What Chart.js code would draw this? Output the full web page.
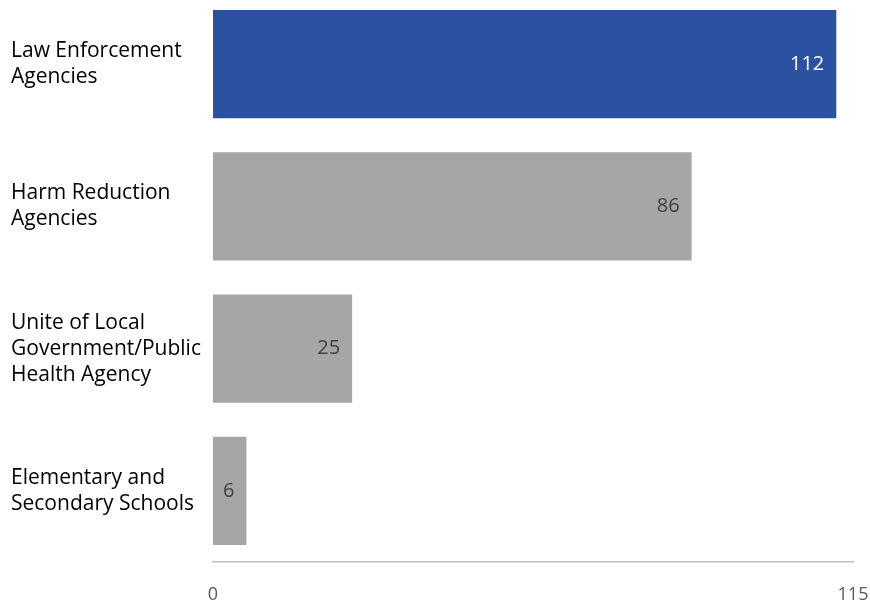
<!doctype html>
<html lang="en">
<head>
	<meta charset="utf-8">
	<title>Grant recipients</title>
	<style>
		* { margin: 0; padding: 0; }
		html, body { width: 870px; height: 601px; overflow: hidden; background: #fff; }
		.chartBox { width: 870px; height: 609px; margin-top: -7px; }
	</style>
</head>
<body>
	<div class="chartBox">
		<canvas id="barChart"></canvas>
	</div>
	<script src="https://cdn.jsdelivr.net/npm/chart.js"></script>
	<script>
		const categories = [
			['Law Enforcement', 'Agencies'],
			['Harm Reduction', 'Agencies'],
			['Unite of Local', 'Government/Public', 'Health Agency'],
			['Elementary and', 'Secondary Schools']
		]
		const values = [112, 86, 25, 6]
		const barColors = ['#2A52A0', '#A6A6A6', '#A6A6A6', '#A6A6A6']
		const labelColors = ['#ffffff', '#404040', '#404040', '#404040']
		const tickValues = [0, 115]

		const fontFamily = '"Open Sans", "Noto Sans", sans-serif'

		// value labels inside the end of each bar
		const barLabels = {
			id: 'barLabels',
			afterDatasetsDraw(chart) {
				const c = chart.ctx
				const meta = chart.getDatasetMeta(0)
				c.save()
				c.font = '20px ' + fontFamily
				c.textAlign = 'right'
				c.textBaseline = 'middle'
				meta.data.forEach((bar, i) => {
					c.fillStyle = labelColors[i]
					c.fillText(String(values[i]), bar.x - 12, bar.y)
				})
				c.restore()
			}
		}

		const ctx = document.getElementById('barChart')
		new Chart(ctx, {
			type: 'bar',
			data: {
				labels: categories,
				datasets: [{
					data: values,
					backgroundColor: barColors,
					barPercentage: 0.76,
					categoryPercentage: 1
				}]
			},
			options: {
				indexAxis: 'y',
				responsive: true,
				maintainAspectRatio: false,
				animation: false,
				layout: { padding: { left: 11, right: 17, top: 0, bottom: 0 } },
				plugins: {
					legend: { display: false },
					tooltip: { enabled: false }
				},
				scales: {
					x: {
						min: 0,
						max: 115,
						afterBuildTicks: (axis) => { axis.ticks = tickValues.map(v => ({ value: v })) },
						afterFit: (axis) => {
							axis.height = 40
							axis.paddingLeft = 0
							axis.paddingRight = 0
						},
						grid: { display: false },
						border: { display: true, color: '#BFBFBF', width: 1.5 },
						ticks: {
							color: '#595959',
							padding: 14,
							maxRotation: 0,
							font: { family: fontFamily, size: 18 }
						}
					},
					y: {
						afterFit: (axis) => {
							axis.width = 202
							axis.paddingTop = 0
							axis.paddingBottom = 0
						},
						grid: { display: false },
						border: { display: false },
						ticks: {
							crossAlign: 'far',
							color: '#000000',
							font: { family: fontFamily, size: 21, lineHeight: 1.24 }
						}
					}
				}
			},
			plugins: [barLabels]
		})
	</script>
</body>
</html>
